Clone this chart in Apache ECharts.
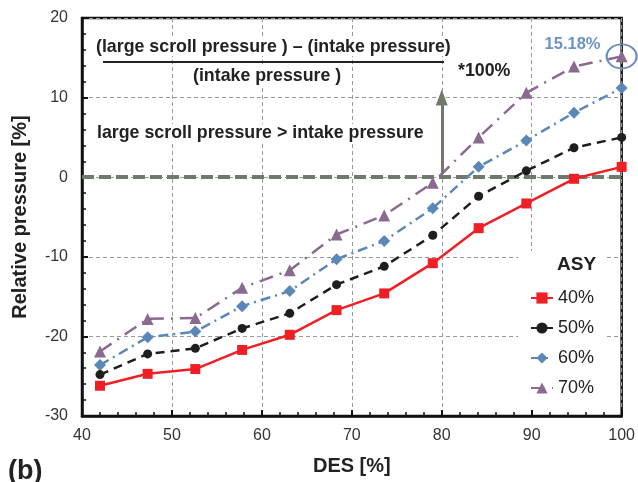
<!DOCTYPE html>
<html><head><meta charset="utf-8">
<script src="https://cdn.jsdelivr.net/npm/echarts@6/dist/echarts.min.js"></script>
<style>html,body{margin:0;padding:0;background:#fff}#c{width:638px;height:482px}</style>
</head><body><div id="c"></div>
<script>
const desValues = [42, 47.3, 52.6, 57.8, 63.1, 68.3, 73.6, 79.0, 84.1, 89.4, 94.7, 100];
const asy40 = [-26.2, -24.7, -24.1, -21.7, -19.8, -16.7, -14.6, -10.8, -6.4, -3.3, -0.2, 1.3];
const asy50 = [-24.8, -22.2, -21.5, -19.0, -17.1, -13.5, -11.2, -7.3, -2.4, 0.8, 3.7, 5.0];
const asy60 = [-23.6, -20.1, -19.4, -16.2, -14.3, -10.3, -8.0, -3.9, 1.3, 4.6, 8.1, 11.2];
const asy70 = [-21.9, -17.8, -17.7, -13.9, -11.7, -7.2, -4.8, -0.7, 5.0, 10.6, 13.9, 15.18];
const seriesNames = ['40%', '50%', '60%', '70%'];
const peakValue = 15.18;
const peakLabel = '15.18%';

const FONT = '"Liberation Sans", Arial, sans-serif';
const pairs = arr => arr.map((v, i) => [desValues[i], v]);

const chart = echarts.init(document.getElementById('c'), null, {renderer: 'canvas'});
const lineW = 2.5;
const annFont = 'bold 17.8px ' + FONT;
chart.setOption({
  animation: false,
  backgroundColor: '#fff',
  grid: {left: 82, right: 15, top: 18, bottom: 66, show: true, borderColor: '#111', borderWidth: 2.5, backgroundColor: 'transparent'},
  xAxis: {
    type: 'value', min: 40, max: 100, interval: 10,
    name: 'DES [%]', nameLocation: 'middle', nameGap: 40,
    nameTextStyle: {fontFamily: FONT, fontSize: 20, fontWeight: 'bold', color: '#222'},
    axisLine: {show: true, onZero: false, lineStyle: {color: '#111', width: 2.5}},
    axisTick: {show: true, inside: true, length: 6, lineStyle: {color: '#111', width: 2}},
    minorTick: {show: true, splitNumber: 5, length: 4, lineStyle: {color: '#111', width: 1.5}},
    axisLabel: {fontFamily: FONT, fontSize: 16, color: '#333', margin: 12},
    splitLine: {show: true, lineStyle: {color: '#999', type: [4, 3], width: 1}}
  },
  yAxis: {
    type: 'value', min: -30, max: 20, interval: 10,
    name: 'Relative pressure [%]', nameLocation: 'middle', nameGap: 52,
    nameTextStyle: {fontFamily: FONT, fontSize: 20, fontWeight: 'bold', color: '#222'},
    axisLine: {show: true, onZero: false, lineStyle: {color: '#111', width: 2.5}},
    axisTick: {show: true, inside: true, length: 6, lineStyle: {color: '#111', width: 2}},
    minorTick: {show: true, splitNumber: 5, length: 4, lineStyle: {color: '#111', width: 1.5}},
    axisLabel: {fontFamily: FONT, fontSize: 16, color: '#333', margin: 14},
    splitLine: {show: true, lineStyle: {color: '#999', type: [4, 3], width: 1}}
  },
  legend: {
    orient: 'vertical', left: 518, top: 251,
    padding: [38, 10, 10, 12], backgroundColor: '#fff',
    itemWidth: 22, itemHeight: 14, itemGap: 12,
    textStyle: {fontFamily: FONT, fontSize: 18, color: '#222'},
    data: seriesNames
  },
  series: [
    {name: seriesNames[0], type: 'line', data: pairs(asy40), symbol: 'rect', symbolSize: 10,
     color: '#ee2026', lineStyle: {width: lineW, type: 'solid'}, z: 5,
     markLine: {silent: true, symbol: ['none', 'none'], label: {show: false},
       lineStyle: {color: '#6f7a6c', width: 4, type: [12, 5]}, data: [{yAxis: 0}], z: 1}},
    {name: seriesNames[1], type: 'line', data: pairs(asy50), symbol: 'circle', symbolSize: 9,
     color: '#1e1e1e', lineStyle: {width: lineW, type: [9, 6]}, z: 4},
    {name: seriesNames[2], type: 'line', data: pairs(asy60), symbol: 'diamond', symbolSize: 12,
     color: '#5b87b8', lineStyle: {width: lineW, type: [10, 5, 2, 5]}, z: 3},
    {name: seriesNames[3], type: 'line', data: pairs(asy70), symbol: 'triangle', symbolSize: 12,
     color: '#8b6a90', lineStyle: {width: lineW, type: [14, 7, 2, 7]}, z: 2,
     markLine: {silent: true, symbol: ['none', 'triangle'], symbolSize: [12, 16], label: {show: false},
       lineStyle: {color: '#6f7a6c', width: 3, type: 'solid'},
       data: [[{coord: [80, 0.4]}, {coord: [80, 10]}]]},
     markPoint: {silent: true, symbol: 'circle', symbolSize: [30, 24],
       itemStyle: {color: 'rgba(0,0,0,0)', borderColor: '#6b8fbc', borderWidth: 2},
       label: {show: true, formatter: peakLabel, position: 'left', offset: [0, -12],
         fontFamily: FONT, fontSize: 16.5, fontWeight: 'bold', color: '#6b94c4'},
       data: [{coord: [100, peakValue]}]}}
  ],
  graphic: [
    {type: 'text', left: 96, top: 38, z: 100, style: {text: '(large scroll pressure ) \u2013 (intake pressure)', font: annFont, fill: '#222', backgroundColor: '#fff'}},
    {type: 'line', z: 100, shape: {x1: 103, y1: 62, x2: 444, y2: 62}, style: {stroke: '#222', lineWidth: 2}},
    {type: 'text', left: 193, top: 67, z: 100, style: {text: '(intake pressure )', font: annFont, fill: '#222', backgroundColor: '#fff'}},
    {type: 'text', left: 458, top: 62, z: 100, style: {text: '*100%', font: annFont, fill: '#222'}},
    {type: 'text', left: 97, top: 124, z: 100, style: {text: 'large scroll pressure > intake pressure', font: annFont, fill: '#222', backgroundColor: '#fff'}},
    {type: 'text', left: 557, top: 255, z: 100, style: {text: 'ASY', font: 'bold 19px ' + FONT, fill: '#222'}},
    {type: 'text', left: 8, top: 458, z: 100, style: {text: '(b)', font: 'bold 27px ' + FONT, fill: '#222'}}
  ]
});
</script>
</body></html>
